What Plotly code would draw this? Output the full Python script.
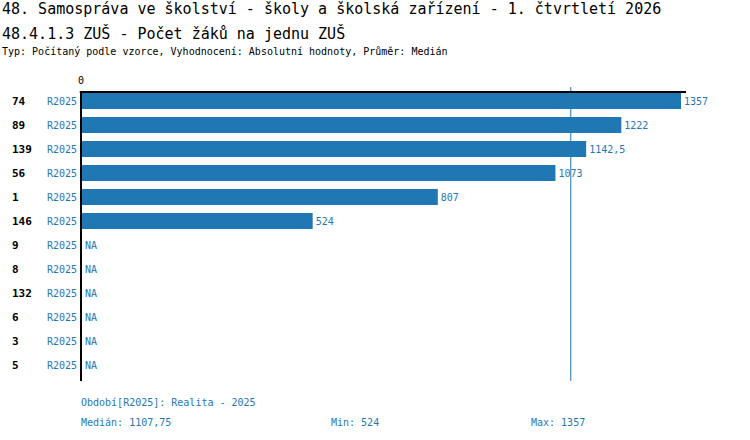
import plotly.graph_objects as go

# ----- Data -----
school_ids = ["74", "89", "139", "56", "1", "146", "9", "8", "132", "6", "3", "5"]
period = "R2025"
values = [1357, 1222, 1142.5, 1073, 807, 524, None, None, None, None, None, None]
median_value = 1107.75
min_value = 524
max_value = 1357

title_1 = "48. Samospráva ve školství - školy a školská zařízení - 1. čtvrtletí 2026"
title_2 = "48.4.1.3 ZUŠ - Počet žáků na jednu ZUŠ"
subtitle = "Typ: Počítaný podle vzorce, Vyhodnocení: Absolutní hodnoty, Průměr: Medián"
footer_period = "Období[R2025]: Realita - 2025"

# ----- Layout helpers (pixel -> paper) -----
W, H = 750, 440
L, R, T, B = 81, 64, 87, 59
PW, PH = W - L - R, H - T - B
BLUE = "#1f77b4"
FONT = "DejaVu Sans Mono"


def px_x(px):
    return (px - L) / PW


def px_y(py):
    return (H - B - py) / PH


def cz(v):
    # czech decimal comma
    s = ("%g" % v)
    return s.replace(".", ",")


rows = list(range(len(school_ids)))
bar_vals = [v if v is not None else 0 for v in values]
bar_text = [cz(v) if v is not None else "" for v in values]

fig = go.Figure()
fig.add_trace(go.Bar(
    x=bar_vals,
    y=rows,
    orientation="h",
    width=0.667,
    marker=dict(color=BLUE, line=dict(width=0)),
    text=bar_text,
    textposition="outside",
    textfont=dict(family=FONT, size=10, color=BLUE),
    cliponaxis=False,
    hoverinfo="skip",
))

xmax = max_value * PW / 600.0
top_row = -0.375

shapes = [
    # median line
    dict(type="line", xref="x", yref="paper", x0=median_value, x1=median_value,
         y0=0, y1=1, line=dict(color=BLUE, width=1)),
    # top axis line
    dict(type="line", xref="paper", yref="y", x0=-0.002, x1=1, y0=top_row, y1=top_row,
         line=dict(color="black", width=2)),
    # left axis line (paper ref so it is not clipped at the plot edge)
    dict(type="line", xref="paper", yref="paper", x0=0, x1=0, y0=0, y1=px_y(92),
         line=dict(color="black", width=2)),
]

annotations = []
for i, sid in enumerate(school_ids):
    annotations.append(dict(x=px_x(10), y=i, xref="paper", yref="y", text="<b>%s</b>" % sid,
                            showarrow=False, xanchor="left", yanchor="middle",
                            font=dict(family=FONT, size=11, color="black")))
    annotations.append(dict(x=px_x(79), y=i, xref="paper", yref="y", text=period,
                            showarrow=False, xanchor="right", yanchor="middle",
                            font=dict(family=FONT, size=10, color=BLUE)))
    if values[i] is None:
        annotations.append(dict(x=0, y=i, xref="x", yref="y", text="NA", xshift=2,
                                showarrow=False, xanchor="left", yanchor="middle",
                                font=dict(family=FONT, size=10, color=BLUE)))

# titles
annotations += [
    dict(x=px_x(0), y=px_y(9), xref="paper", yref="paper", text=title_1, showarrow=False,
         xanchor="left", yanchor="middle", font=dict(family=FONT, size=15, color="black")),
    dict(x=px_x(0), y=px_y(33), xref="paper", yref="paper", text=title_2, showarrow=False,
         xanchor="left", yanchor="middle", font=dict(family=FONT, size=15, color="black")),
    dict(x=px_x(0), y=px_y(51), xref="paper", yref="paper", text=subtitle, showarrow=False,
         xanchor="left", yanchor="middle", font=dict(family=FONT, size=10, color="black")),
]

# footer
annotations += [
    dict(x=px_x(79), y=px_y(402), xref="paper", yref="paper", text=footer_period, showarrow=False,
         xanchor="left", yanchor="middle", font=dict(family=FONT, size=10, color=BLUE)),
    dict(x=px_x(79), y=px_y(422), xref="paper", yref="paper", text="Medián: " + cz(median_value),
         showarrow=False, xanchor="left", yanchor="middle", font=dict(family=FONT, size=10, color=BLUE)),
    dict(x=px_x(329), y=px_y(422), xref="paper", yref="paper", text="Min: " + cz(min_value),
         showarrow=False, xanchor="left", yanchor="middle", font=dict(family=FONT, size=10, color=BLUE)),
    dict(x=px_x(529), y=px_y(422), xref="paper", yref="paper", text="Max: " + cz(max_value),
         showarrow=False, xanchor="left", yanchor="middle", font=dict(family=FONT, size=10, color=BLUE)),
]

fig.update_layout(
    width=W, height=H,
    margin=dict(l=L, r=R, t=T, b=B, pad=0),
    paper_bgcolor="white", plot_bgcolor="white",
    showlegend=False,
    shapes=shapes,
    annotations=annotations,
    xaxis=dict(range=[0, xmax], side="top", tickvals=[0], ticktext=["0"], ticks="",
               showgrid=False, zeroline=False, showline=False,
               tickfont=dict(family=FONT, size=10, color="black")),
    yaxis=dict(range=[(H - B - 101) / 24.0, (T - 101) / 24.0], showticklabels=False,
               showgrid=False, zeroline=False, showline=False, ticks=""),
    font=dict(family=FONT),
)

# page has a default 8px body margin, drop it so the figure sits at 0,0
fig.write_html("out.html", config={"displayModeBar": False},
               post_script="document.body.style.margin='0px';")
